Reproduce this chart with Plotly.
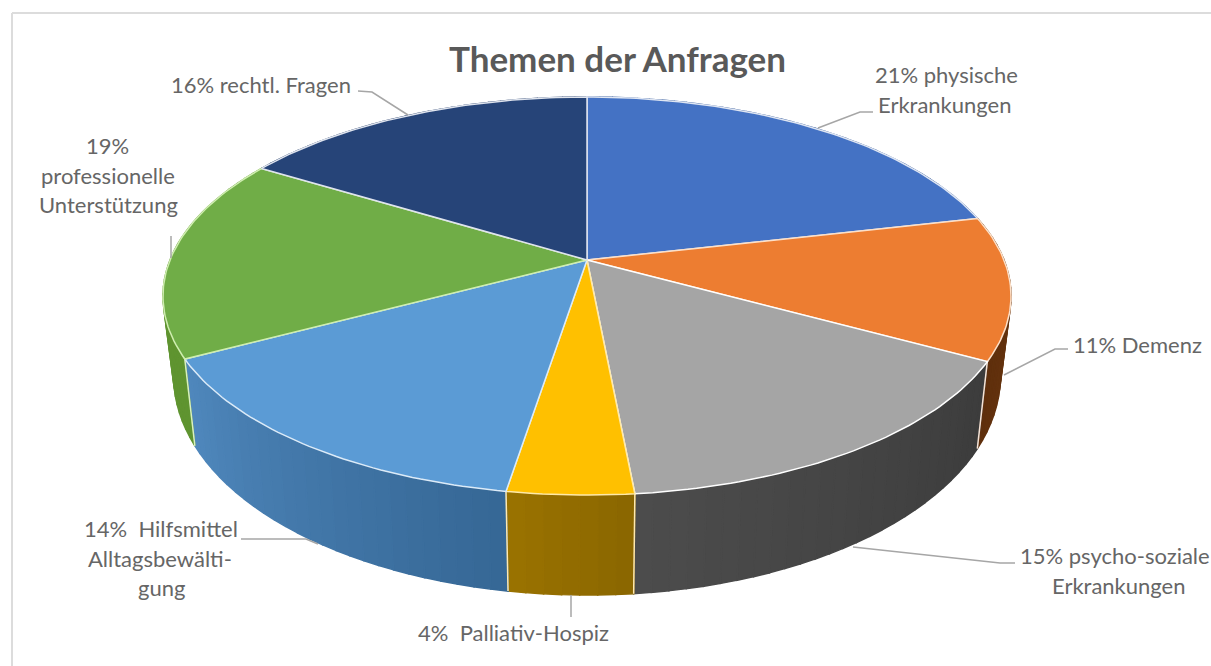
import math
import plotly.graph_objects as go

title = "Themen der Anfragen"
categories = ["physische Erkrankungen", "Demenz", "psycho-soziale Erkrankungen",
              "Palliativ-Hospiz", "Hilfsmittel Alltagsbewältigung",
              "professionelle Unterstützung", "rechtl. Fragen"]
# Slice sizes as drawn in the picture (percent of the circle)
slice_shares = [21.4, 11.6, 15.5, 4.05, 14.65, 16.5, 16.3]
# Printed label lines
label_lines = [
    ["21% physische", "Erkrankungen"],
    ["11% Demenz"],
    ["15% psycho-soziale", "Erkrankungen"],
    ["4%  Palliativ-Hospiz"],
    ["14%  Hilfsmittel", "Alltagsbewälti-", "gung"],
    ["19%", "professionelle", "Unterstützung"],
    ["16% rechtl. Fragen"],
]

top_colors = ["#4472c4", "#ed7d31", "#a5a5a5", "#ffc000", "#5b9bd5", "#70ad47", "#264478"]
wall_start = ["#2f5597", "#6e3a12", "#3c3c3c", "#8a6600", "#356795", "#5f9430", "#1f3864"]
wall_end = ["#2f5597", "#5f2f0c", "#4c4c4c", "#9a7300", "#5088bd", "#5f9430", "#1f3864"]
edge_colors = ["#dfe6f3", "#fde0c8", "#ffffff", "#ffe9a8", "#dcebf8", "#cfeeb0", "#dfe4ee"]

# Projection of the unit disc on to the pixel-sized axes
CX, CY, A, B, K = 587.0, 260.0, 417.0, 192.5, 0.181


def top_point(theta):
    u, v = math.sin(theta), -math.cos(theta)
    den = 1 - K * v
    return CX + A * u / den, CY + B * v / den


def bottom_point(theta):
    x, y = top_point(theta)
    v = -math.cos(theta)
    return CX + (x - CX) * 0.975, y + 75 + 25 * v


def mix(c1, c2, t):
    a = [int(c1[i:i + 2], 16) for i in (1, 3, 5)]
    b = [int(c2[i:i + 2], 16) for i in (1, 3, 5)]
    return "rgb(%d,%d,%d)" % tuple(round(p + (q - p) * t) for p, q in zip(a, b))


total = sum(slice_shares)
bounds = [0.0]
for s in slice_shares:
    bounds.append(bounds[-1] + s / total * 2 * math.pi)

fig = go.Figure()


def poly(xs, ys, fill, line=None, width=1.0):
    fig.add_trace(go.Scatter(x=xs, y=ys, mode="lines", fill="toself", fillcolor=fill,
                             line=dict(color=line or fill, width=width),
                             hoverinfo="skip", showlegend=False))


# Side walls, split into narrow strips for the shading
for i in range(len(slice_shares)):
    a0, a1 = bounds[i], bounds[i + 1]
    steps = max(3, int((a1 - a0) / math.radians(2)))
    for k in range(steps):
        t0 = a0 + (a1 - a0) * k / steps
        t1 = a0 + (a1 - a0) * (k + 1) / steps
        p = [top_point(t0), top_point(t1), bottom_point(t1), bottom_point(t0)]
        col = mix(wall_start[i], wall_end[i], (k + 0.5) / steps)
        poly([q[0] for q in p] + [p[0][0]], [q[1] for q in p] + [p[0][1]], col, width=1.5)

# Seams between visible walls
for i, col in [(2, "#f6e3d5"), (3, "#ffe9b0"), (4, "#ffe9b0"), (5, "#d8f0c0")]:
    p0, p1 = top_point(bounds[i]), bottom_point(bounds[i])
    fig.add_trace(go.Scatter(x=[p0[0], p1[0]], y=[p0[1], p1[1]], mode="lines",
                             line=dict(color=col, width=1.5),
                             hoverinfo="skip", showlegend=False))

# Top faces
for i in range(len(slice_shares)):
    a0, a1 = bounds[i], bounds[i + 1]
    steps = max(8, int((a1 - a0) / math.radians(1)))
    pts = [(CX, CY)] + [top_point(a0 + (a1 - a0) * k / steps) for k in range(steps + 1)] + [(CX, CY)]
    poly([q[0] for q in pts], [q[1] for q in pts], top_colors[i], edge_colors[i], 1.5)

# Label text
FONT = "Lato, 'Open Sans', sans-serif"
label_pos = [
    [(946, 74, "center"), (945, 104, "center")],
    [(1137, 344, "center")],
    [(1018, 555, "left"), (1119, 585, "center")],
    [(513, 632, "center")],
    [(161, 528, "center"), (160, 558, "center"), (161, 587, "center")],
    [(107, 145, "center"), (108, 175, "center"), (108, 204, "center")],
    [(261, 84, "center")],
]
annotations = [dict(x=617, y=58, text="<b>%s</b>" % title, showarrow=False,
                    xanchor="center", yanchor="middle",
                    font=dict(family=FONT, size=35, color="#595959"))]
for lines, poss in zip(label_lines, label_pos):
    for text, (x, y, anchor) in zip(lines, poss):
        annotations.append(dict(x=x, y=y, text=text, showarrow=False, xanchor=anchor,
                                yanchor="middle",
                                font=dict(family=FONT, size=22, color="#666666")))

leaders = [
    [(358, 91), (372, 92), (408, 115)],
    [(873, 112), (860, 112), (818, 128)],
    [(1068, 349), (1055, 349), (1004, 375)],
    [(1015, 563), (1000, 563), (853, 547)],
    [(241, 539), (306, 539), (318, 544)],
    [(571, 595), (571, 617)],
    [(171, 236), (171, 258)],
]
shapes = [dict(type="path", xref="x", yref="y", layer="above",
               path="M" + " L".join("%g,%g" % p for p in pts),
               line=dict(color="#a6a6a6", width=1.5)) for pts in leaders]
shapes += [
    dict(type="line", xref="x", yref="y", x0=12, y0=13, x1=1211, y1=13,
         line=dict(color="#dcdcdc", width=2)),
    dict(type="line", xref="x", yref="y", x0=12, y0=13, x1=12, y1=666,
         line=dict(color="#dcdcdc", width=2)),
]

fig.update_layout(
    width=1211, height=666, margin=dict(l=0, r=0, t=0, b=0),
    paper_bgcolor="white", plot_bgcolor="white", showlegend=False,
    xaxis=dict(range=[0, 1211], visible=False, fixedrange=True),
    yaxis=dict(range=[666, 0], visible=False, fixedrange=True),
    annotations=annotations, shapes=shapes,
)
fig.write_html("out.html", config=dict(displayModeBar=False),
               post_script="document.body.style.margin='0';document.body.style.overflow='hidden';")
